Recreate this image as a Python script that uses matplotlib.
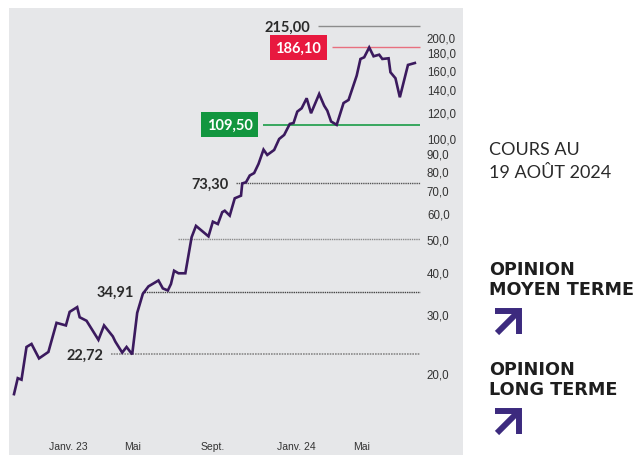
import matplotlib
matplotlib.use('Agg')
import matplotlib.pyplot as plt
from matplotlib.ticker import FixedLocator, FuncFormatter, NullLocator
from matplotlib.lines import Line2D
import pandas as pd

# Cours de l'action (échelle logarithmique)
dates = ['2022-11-06', '2022-11-12', '2022-11-18', '2022-11-26', '2022-12-04', '2022-12-16',
         '2022-12-31', '2023-01-13', '2023-01-28', '2023-02-03', '2023-02-15', '2023-02-19',
         '2023-03-02', '2023-03-21', '2023-03-30', '2023-04-13', '2023-04-17', '2023-04-28',
         '2023-05-05', '2023-05-14', '2023-05-22', '2023-05-31', '2023-06-09', '2023-06-25',
         '2023-07-02', '2023-07-10', '2023-07-15', '2023-07-20', '2023-07-27', '2023-08-07',
         '2023-08-17', '2023-08-24', '2023-09-13', '2023-09-20', '2023-09-28', '2023-10-05',
         '2023-10-09', '2023-10-17', '2023-10-25', '2023-11-04', '2023-11-06', '2023-11-12',
         '2023-11-18', '2023-11-25', '2023-12-02', '2023-12-10', '2023-12-16', '2023-12-27',
         '2024-01-04', '2024-01-12', '2024-01-21', '2024-01-27', '2024-02-02', '2024-02-09',
         '2024-02-17', '2024-02-24', '2024-03-08', '2024-03-16', '2024-03-21', '2024-03-27',
         '2024-04-05', '2024-04-16', '2024-04-24', '2024-05-07', '2024-05-13', '2024-05-19',
         '2024-05-27', '2024-06-03', '2024-06-12', '2024-06-17', '2024-06-27', '2024-06-30',
         '2024-07-08', '2024-07-15', '2024-07-28', '2024-08-08']
cours = [17.3, 19.3, 19.1, 23.9, 24.4, 22.1,
         23.1, 28.2, 27.7, 30.4, 31.4, 29.3,
         28.6, 25.1, 27.7, 25.7, 24.8, 23.0,
         23.9, 22.72, 30.2, 34.4, 36.2, 37.7,
         35.7, 35.2, 36.8, 40.3, 39.6, 39.6,
         50.7, 54.8, 51.0, 56.4, 55.5, 60.2,
         60.8, 58.8, 66.2, 67.4, 73.3, 73.9,
         77.4, 78.7, 83.8, 92.4, 89.1, 92.2,
         99.4, 102.2, 110.2, 110.9, 119.9, 122.7,
         131.4, 118.6, 135.3, 124.9, 120.7, 112.1,
         109.5, 127.2, 129.9, 153.4, 172.0, 174.0,
         186.1, 175.2, 177.1, 172.0, 172.8, 157.0,
         150.7, 132.3, 165.1, 167.3]

# Niveaux repères
niveaux = [215.00, 186.10, 109.50, 73.30, 50.0, 34.91, 22.72]
niveaux_labels = ['215,00', '186,10', '109,50', '73,30', '', '34,91', '22,72']
niveaux_debut = ['2024-03-06', '2024-03-28', '2023-12-09', '2023-10-27',
                 '2023-07-26', '2023-05-29', '2023-04-10']
niveaux_fin = '2024-08-16'

y_ticks = [20, 30, 40, 50, 60, 70, 80, 90, 100, 120, 140, 160, 180, 200]
x_ticks = ['2023-01-01', '2023-05-01', '2023-09-01', '2024-01-01', '2024-05-01']
x_labels = ['Janv. 23', 'Mai', 'Sept.', 'Janv. 24', 'Mai']

W, H = 637, 456
LINE = '#3b1a5e'
BG = '#e6e7e9'
TICKFONT = 'Liberation Sans'


def px(x, y):
    return x / W, 1 - y / H


fig = plt.figure(figsize=(W / 100, H / 100), dpi=100)
ax = fig.add_axes([9 / W, 0, (463 - 9) / W, (456 - 9) / H])
ax.set_facecolor(BG)
for s in ax.spines.values():
    s.set_visible(False)

d = pd.to_datetime(dates)
ax.plot(d, cours, color=LINE, lw=1.9, zorder=5, solid_joinstyle='miter')

ax.set_yscale('log')
ax.set_ylim(11.40, 243.9)
ax.set_xlim(pd.Timestamp('2022-10-29'), pd.Timestamp('2024-10-24'))

ax.yaxis.set_major_locator(FixedLocator(y_ticks))
ax.yaxis.set_minor_locator(NullLocator())
ax.yaxis.set_major_formatter(FuncFormatter(lambda v, p: f"{v:.1f}".replace('.', ',')))
ax.yaxis.tick_right()
ax.tick_params(axis='y', length=0, pad=-26, labelsize=8.3, labelcolor='#333333')
for lab in ax.get_yticklabels():
    lab.set_family(TICKFONT)

ax.set_xticks(pd.to_datetime(x_ticks))
ax.set_xticklabels(x_labels, ha='left', family=TICKFONT)
ax.tick_params(axis='x', length=0, pad=-10, labelsize=7.5, labelcolor='#333333')

# Lignes de niveaux
styles = [
    dict(color='#8c8c8c', lw=1.0, ls='-'),
    dict(color='#e8707f', lw=1.0, ls='-'),
    dict(color='#1a9c48', lw=1.2, ls='-'),
    dict(color='#555555', lw=1.0, ls=(0, (1, 0.6))),
    dict(color='#8a8a8a', lw=1.0, ls=(0, (1, 0.6))),
    dict(color='#444444', lw=1.0, ls=(0, (1, 0.6))),
    dict(color='#8a8a8a', lw=1.2, ls=(0, (1, 0.6))),
]
boxes = [None, '#e8193f', '#12963f', None, None, None, None]
fin = pd.Timestamp(niveaux_fin)
for niv, lab, deb, st, bc in zip(niveaux, niveaux_labels, niveaux_debut, styles, boxes):
    deb = pd.Timestamp(deb)
    ax.hlines(niv, deb, fin, zorder=3, **st)
    if not lab:
        continue
    if bc:
        ax.annotate(lab, (deb, niv), xytext=(-7.5, 0), textcoords='offset points',
                    ha='right', va='center', color='white', fontsize=10.5,
                    family='Lato', fontweight='bold', zorder=6,
                    bbox=dict(boxstyle='square,pad=0.38', fc=bc, ec='none'))
    else:
        ax.annotate(lab, (deb, niv), xytext=(-5.5, 0), textcoords='offset points',
                    ha='right', va='center', color='#2b2b2b', fontsize=10.5,
                    family='Lato', fontweight='bold', zorder=6)

# Panneau de droite
fig.text(*px(489, 150), 'COURS AU', ha='left', va='center', fontsize=13,
         family='Lato', fontweight='normal', color='#2a2a2a')
fig.text(*px(489, 173.5), '19 AOÛT 2024', ha='left', va='center', fontsize=13,
         family='Lato', fontweight='normal', color='#2a2a2a')

for y0, titre in [(270, 'MOYEN TERME'), (370, 'LONG TERME')]:
    fig.text(*px(489, y0), 'OPINION', ha='left', va='center', fontsize=12.7,
             family='DejaVu Sans', fontweight='bold', color='#1e1e1e')
    fig.text(*px(489, y0 + 20), titre, ha='left', va='center', fontsize=12.7,
             family='DejaVu Sans', fontweight='bold', color='#1e1e1e')
    ya = y0 + 39
    head = [px(495, ya + 2.5), px(518.5, ya + 2.5), px(518.5, ya + 26)]
    fig.add_artist(Line2D([p[0] for p in head], [p[1] for p in head],
                          transform=fig.transFigure, color='#3c2a7e', lw=4.3,
                          solid_joinstyle='miter', solid_capstyle='butt'))
    shaft = [px(497, ya + 25), px(517, ya + 5)]
    fig.add_artist(Line2D([p[0] for p in shaft], [p[1] for p in shaft],
                          transform=fig.transFigure, color='#3c2a7e', lw=4.3,
                          solid_capstyle='butt'))

fig.savefig('out.png', dpi=100)
